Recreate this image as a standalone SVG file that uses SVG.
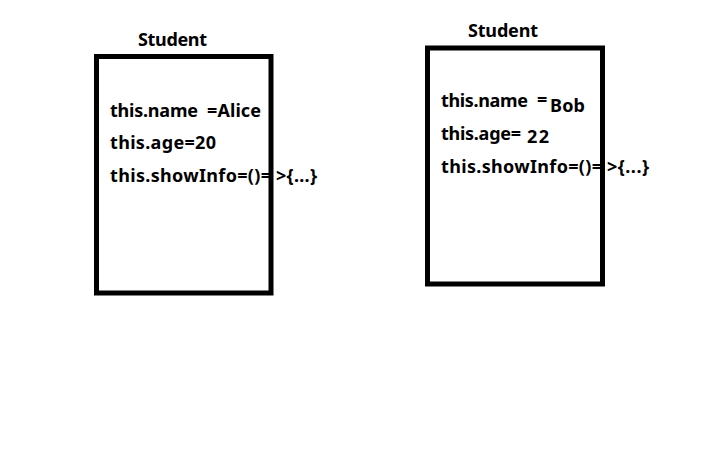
<svg xmlns="http://www.w3.org/2000/svg" width="726" height="474" viewBox="0 0 726 474">
<style>
.box{fill:#fff;stroke:#000;stroke-width:5}
.t{font-family:"Noto Sans","Open Sans",sans-serif;font-weight:bold;font-size:18px;fill:#000}
</style>
<rect width="726" height="474" fill="#fff"/>
<g id="student1">
<text class="t" x="138" y="46" textLength="69">Student</text>
<rect class="box" x="96.5" y="56.5" width="174.5" height="236.5"/>
<text class="t" x="110" y="117" textLength="88">this.name</text>
<text class="t" x="207" y="117" textLength="54">=Alice</text>
<text class="t" x="110" y="149" textLength="106">this.age=20</text>
<text class="t" x="110" y="182" textLength="161">this.showInfo=()=</text>
<text class="t" x="276" y="182" textLength="41">&gt;{...}</text>
</g>
<g id="student2">
<text class="t" x="468" y="37" textLength="70">Student</text>
<rect class="box" x="427.5" y="48" width="175" height="236"/>
<text class="t" x="441" y="107" textLength="87">this.name</text>
<text class="t" x="537" y="106" textLength="12">=</text>
<text class="t" x="550" y="112" textLength="35">Bob</text>
<text class="t" x="441" y="140" textLength="80">this.age=</text>
<text class="t" x="527" y="143" textLength="22">22</text>
<text class="t" x="441" y="173" textLength="161">this.showInfo=()=</text>
<text class="t" x="607" y="173" textLength="42">&gt;{...}</text>
</g>
</svg>
